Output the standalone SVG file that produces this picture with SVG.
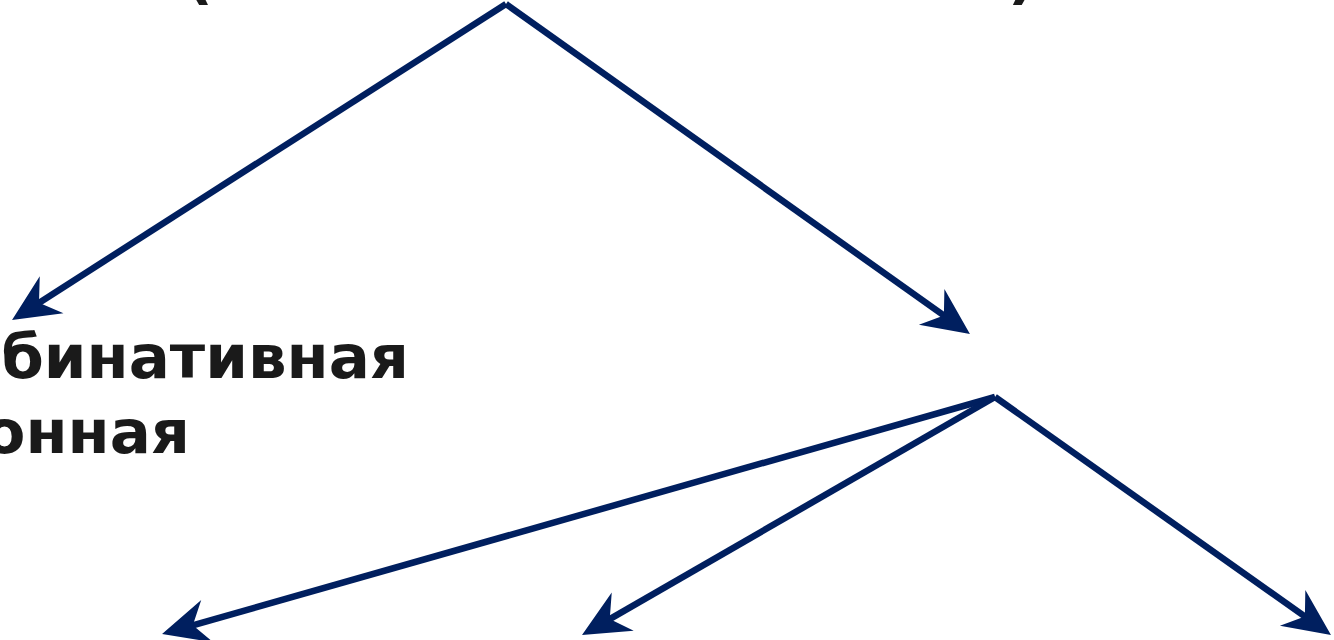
<svg xmlns="http://www.w3.org/2000/svg" width="1334" height="640" viewBox="0 0 1334 640">
<style>
.lbl{font-family:"DejaVu Sans","Verdana",sans-serif;font-weight:bold;font-size:61px;fill:#1a1a1a}
.con{stroke:#001f5f;stroke-width:6.5;fill:none;marker-end:url(#ah)}
</style>
<defs>
<marker id="ah" markerUnits="userSpaceOnUse" markerWidth="100" markerHeight="100" viewBox="-50 -50 100 100" refX="0" refY="0" orient="auto" overflow="visible">
<path d="M30,0 L-17,-22 L-2,0 L-17,22 z" fill="#001f5f"/>
</marker>
</defs>
<rect width="1334" height="640" fill="#ffffff"/>
<g id="node-top">
<text class="lbl" x="185" y="-3">(</text>
<text class="lbl" x="1008" y="-3">)</text>
</g>
<g id="node-left">
<text class="lbl" x="409" y="378" text-anchor="end">бинативная</text>
<text class="lbl" x="190" y="453" text-anchor="end">онная</text>
</g>
<g id="connectors">
<line class="con" x1="506" y1="4" x2="37.3" y2="303.9"/>
<line class="con" x1="506" y1="4" x2="945.5" y2="316.7"/>
<line class="con" x1="995" y1="397" x2="190.9" y2="625.8"/>
<line class="con" x1="995" y1="397" x2="608" y2="620.1"/>
<line class="con" x1="995" y1="397" x2="1306.5" y2="617.7"/>
</g>
</svg>
